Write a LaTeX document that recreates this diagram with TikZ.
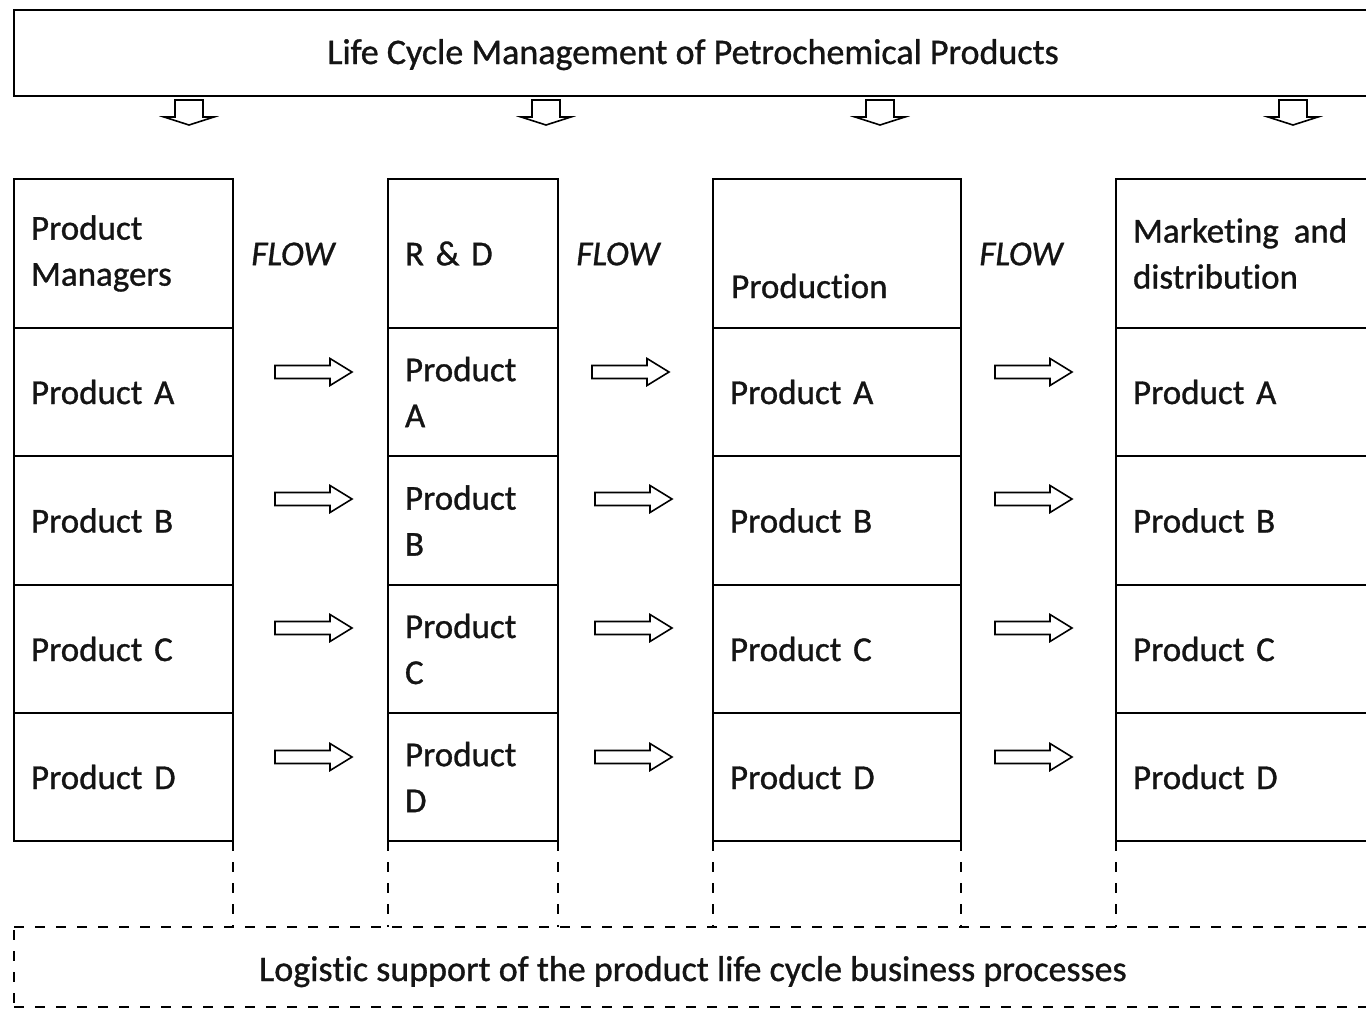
\documentclass[tikz,border=0pt]{standalone}
\usepackage{fontspec}
\setmainfont{Carlito}[FakeBold=0.9, Ligatures={NoCommon,NoContextual}]
\newcommand{\nl}{\kern0pt}
\begin{document}
\begin{tikzpicture}[x=1pt,y=-1pt,
  every node/.style={font=\fontsize{35}{46}\selectfont, text=black!92},
  box/.style={draw, line width=1.8pt, outer sep=0pt, inner sep=0pt},
  cell/.style={box, anchor=north west, inner xsep=17pt, align=left},
  dsh/.style={line width=1.8pt, dash pattern=on 10pt off 11pt},
  rarr/.pic={\draw[line width=1.6pt, line join=miter] (0,-6.5) -- (55,-6.5) -- (55,-13.5) -- (77,0) -- (55,13.5) -- (55,6.5) -- (0,6.5) -- cycle;},
  darr/.pic={\draw[line width=1.6pt] (-14,0) -- (14,0) -- (14,17) -- (25,17) -- (0,25) -- (-25,17) -- (-14,17) -- cycle;}]
\useasboundingbox (0,0) rectangle (1366,1009);
\clip (0,0) rectangle (1366,1009);
\fill[white] (0,0) rectangle (1366,1009);

% top box
\node[box, anchor=north west, minimum width=1358pt, minimum height=86pt] (top) at (14,10) {};
\node[font=\fontsize{36}{46}\selectfont, anchor=base, inner sep=0pt] (toptxt) at (693,64) {Life Cycle Management of Petrochemical Products};
\foreach \x in {189,546,880,1293} \pic at (\x,100) {darr};

% column 1
\node[cell, text width=185pt, minimum height=149pt] (h1) at (14,179) {Product\\Managers};
\node[cell, text width=185pt, minimum height=128pt] (a1) at (14,328) {Product A};
\node[cell, text width=185pt, minimum height=129pt] (b1) at (14,456) {Product B};
\node[cell, text width=185pt, minimum height=128pt] (c1) at (14,585) {Product C};
\node[cell, text width=185pt, minimum height=128pt] (d1) at (14,713) {Product D};

% column 2
\node[cell, text width=136pt, minimum height=149pt] (h2) at (388,179) {R \& D};
\node[cell, text width=136pt, minimum height=128pt] (a2) at (388,328) {Product\\A};
\node[cell, text width=136pt, minimum height=129pt] (b2) at (388,456) {Product\\B};
\node[cell, text width=136pt, minimum height=128pt] (c2) at (388,585) {Product\\C};
\node[cell, text width=136pt, minimum height=128pt] (d2) at (388,713) {Product\\D};

% column 3
\node[cell, text width=214pt, minimum height=149pt] (h3) at (713,179) {};
\node[anchor=west, inner sep=0pt] (h3t) at (731,286) {Produc\nl tion};
\node[cell, text width=214pt, minimum height=128pt] (a3) at (713,328) {Product A};
\node[cell, text width=214pt, minimum height=129pt] (b3) at (713,456) {Product B};
\node[cell, text width=214pt, minimum height=128pt] (c3) at (713,585) {Product C};
\node[cell, text width=214pt, minimum height=128pt] (d3) at (713,713) {Product D};

% column 4
\node[cell, text width=226pt, minimum height=149pt] (h4) at (1116,179) {Marke\nl ting\hspace{15pt}and\\distribu\nl tion};
\node[cell, text width=226pt, minimum height=128pt] (a4) at (1116,328) {Product A};
\node[cell, text width=226pt, minimum height=129pt] (b4) at (1116,456) {Product B};
\node[cell, text width=226pt, minimum height=128pt] (c4) at (1116,585) {Product C};
\node[cell, text width=226pt, minimum height=128pt] (d4) at (1116,713) {Product D};

% FLOW labels
\node[font=\fontsize{35}{46}\selectfont\itshape] (f1) at (293,254) {FLOW};
\node[font=\fontsize{35}{46}\selectfont\itshape] (f2) at (618,254) {FLOW};
\node[font=\fontsize{35}{46}\selectfont\itshape] (f3) at (1021,254) {FLOW};

% flow arrows
\foreach \y in {372,499,628,757} {
  \pic at (275,\y) {rarr};
  \pic at (995,\y) {rarr};
}
\pic at (592,372) {rarr};
\foreach \y in {499,628,757} \pic at (595,\y) {rarr};

% bottom dashed box
\node[anchor=north west, minimum width=1358pt, minimum height=80pt, inner sep=0pt, outer sep=0pt] (bot) at (14,927) {};
\node[font=\fontsize{36}{46}\selectfont, anchor=base, inner sep=0pt] (bottxt) at (693,981) {Logis\nl tic support of the product life cycle business processes};
\draw[dsh] (bot.north west) -- (bot.north east);
\draw[dsh] (bot.south west) -- (bot.south east);
\draw[dsh] ([yshift=-3pt]bot.north west) -- (bot.south west);

% dashed verticals
\draw[dsh] (d1.south east) -- (d1.south east |- bot.north);
\draw[dsh] (d2.south west) -- (d2.south west |- bot.north);
\draw[dsh] (d2.south east) -- (d2.south east |- bot.north);
\draw[dsh] (d3.south west) -- (d3.south west |- bot.north);
\draw[dsh] (d3.south east) -- (d3.south east |- bot.north);
\draw[dsh] (d4.south west) -- (d4.south west |- bot.north);
\end{tikzpicture}
\end{document}
